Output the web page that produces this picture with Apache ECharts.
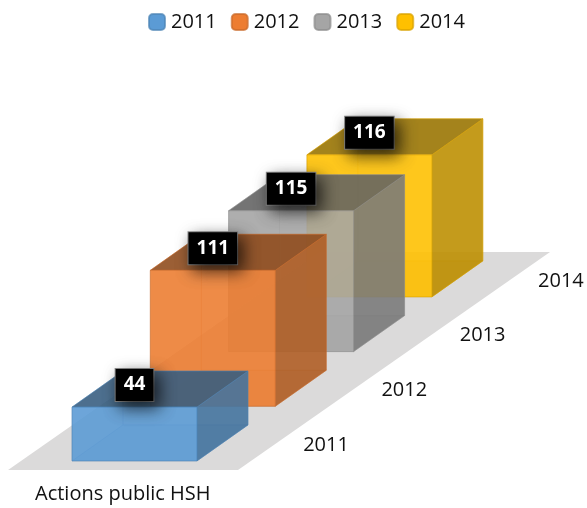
<!DOCTYPE html>
<html>
<head>
<meta charset="utf-8">
<title>Actions public HSH</title>
<style>
  html, body { margin: 0; padding: 0; background: #fff; }
  #main { width: 587px; height: 508px; }
</style>
</head>
<body>
<div id="main"></div>
<script src="https://cdn.jsdelivr.net/npm/echarts@6/dist/echarts.min.js"></script>
<script>
const years = ['2011', '2012', '2013', '2014'];
const values = [44, 111, 115, 116];
const colors = ['#5B9BD5', '#ED7D31', '#A5A5A5', '#FFC000'];
const axisLabel = 'Actions public HSH';

const FONT = '"Open Sans", sans-serif';

// oblique projection, all in axis units so the scales do the placing
const STEP_X = 1;        // next year moves right by this
const STEP_Y = 44.65;    // ...and up by this
const BOX_W = 1.596;
const DEPTH_X = 0.651;
const DEPTH_Y = 29.4;

function project(api, i, w, d, v) {
  // i = year position, w = across the box, d = into the depth, v = height
  return api.coord([i * STEP_X + w * BOX_W + d * DEPTH_X, i * STEP_Y + d * DEPTH_Y + v]);
}

function shade(color, factor, opacity) {
  const rgb = echarts.color.parse(color);
  return 'rgba(' + Math.round(rgb[0] * factor) + ',' + Math.round(rgb[1] * factor) + ',' + Math.round(rgb[2] * factor) + ',' + opacity + ')';
}

function face(points, fill, stroke) {
  return {
    type: 'polygon',
    shape: { points: points },
    style: { fill: fill, stroke: stroke, lineWidth: 1 }
  };
}

function renderBox(params, api) {
  const i = api.value(0);
  const v = api.value(1);
  const c = colors[i];

  const p = (w, d, h) => project(api, i, w, d, h * v);
  const edge = shade(c, 0.85, 0.55);
  const inner = shade(c, 0.8, 0.22);
  const top = p(0.5, 0, 1);

  return {
    type: 'group',
    children: [
      // hidden faces show through
      face([p(0, 0, 0), p(1, 0, 0), p(1, 1, 0), p(0, 1, 0)], shade(c, 0.75, 0.25), inner),
      face([p(0, 1, 0), p(1, 1, 0), p(1, 1, 1), p(0, 1, 1)], shade(c, 0.9, 0.1), inner),
      face([p(0, 0, 0), p(0, 1, 0), p(0, 1, 1), p(0, 0, 1)], shade(c, 0.9, 0.1), inner),
      // visible faces
      face([p(1, 0, 0), p(1, 1, 0), p(1, 1, 1), p(1, 0, 1)], shade(c, 0.74, 0.88), edge),
      face([p(0, 0, 1), p(1, 0, 1), p(1, 1, 1), p(0, 1, 1)], shade(c, 0.6, 0.88), edge),
      face([p(0, 0, 0), p(1, 0, 0), p(1, 0, 1), p(0, 0, 1)], shade(c, 1, 0.88), edge),
      // year next to the floor
      {
        type: 'text',
        x: p(1, 0, 0)[0] + 129,
        y: p(1, 0, 0)[1] - 16,
        style: { text: years[i], font: '20px ' + FONT, fill: '#111', align: 'center', verticalAlign: 'middle' }
      },
      // value tag
      {
        type: 'text',
        z2: 10,
        x: top[0],
        y: top[1] - 22,
        style: {
          text: String(v),
          font: 'bold 19px ' + FONT,
          fill: '#fff',
          align: 'center',
          verticalAlign: 'middle',
          backgroundColor: '#000',
          borderColor: '#8c8c8c',
          borderWidth: 1,
          padding: [7, 8, 6, 8],
          shadowColor: 'rgba(0,0,0,0.7)',
          shadowBlur: 16,
          shadowOffsetX: 5,
          shadowOffsetY: 6
        }
      }
    ]
  };
}

function renderFloor(params, api) {
  const a = api.coord([-0.817, -7.35]);
  const b = api.coord([-0.817 + 2.937, -7.35]);
  const c = api.coord([-0.817 + 2.937 + 3.985, -7.35 + 178]);
  const d = api.coord([-0.817 + 3.985, -7.35 + 178]);
  return {
    type: 'polygon',
    shape: { points: [a, b, c, d] },
    style: { fill: '#DBDADA' }
  };
}

const chart = echarts.init(document.getElementById('main'), null, { renderer: 'canvas' });

const boxSeries = years.map(function (y, i) {
  return {
    name: y,
    type: 'custom',
    z: 10 - i,
    clip: false,
    silent: true,
    animation: false,
    renderItem: renderBox,
    itemStyle: { color: colors[i], borderColor: shade(colors[i], 0.85, 0.7), borderWidth: 1 },
    encode: { x: 0, y: 1 },
    data: [[i, values[i]]]
  };
});

chart.setOption({
  animation: false,
  title: {
    text: axisLabel,
    left: 35,
    top: 484,
    padding: 0,
    textStyle: { fontFamily: FONT, fontSize: 20, fontWeight: 'normal', color: '#111' }
  },
  legend: {
    data: years,
    left: 148,
    top: 12,
    padding: 0,
    icon: 'roundRect',
    itemWidth: 16,
    itemHeight: 16,
    itemGap: 14,
    selectedMode: false,
    textStyle: { fontFamily: FONT, fontSize: 20, color: '#111', padding: [0, 0, 0, 1] }
  },
  grid: { left: 0, right: 0, top: 0, bottom: 0 },
  // 1 x unit = 78.3px, 1 y unit = 1.225px
  xAxis: { type: 'value', min: -0.92, max: 6.577, show: false },
  yAxis: { type: 'value', min: -38.4, max: 376.33, show: false },
  series: [
    {
      type: 'custom',
      z: 1,
      clip: false,
      silent: true,
      renderItem: renderFloor,
      data: [[0, 0]]
    }
  ].concat(boxSeries)
});

window.addEventListener('resize', chart.resize);
</script>
</body>
</html>
